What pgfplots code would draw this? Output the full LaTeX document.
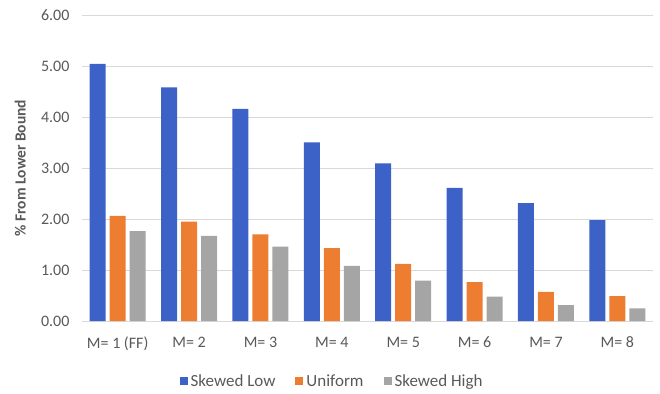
\documentclass[border=0pt]{standalone}
\usepackage{pgfplots}
\pgfplotsset{compat=1.18}
\usepackage{fontspec}
\setmainfont{Carlito}

\definecolor{slow}{HTML}{3C62C8}
\definecolor{unif}{HTML}{ED7D31}
\definecolor{shigh}{HTML}{A5A5A5}
\definecolor{txt}{HTML}{595959}
\definecolor{gridc}{HTML}{D9D9D9}

\begin{document}
\begin{tikzpicture}[x=1pt,y=1pt]
\begin{axis}[
  at={(0,0)}, anchor=south west,
  scale only axis,
  width=571pt, height=306pt,
  ybar=4pt, bar width=16pt,
  xmin=-0.5, xmax=7.5,
  ymin=0, ymax=6,
  ytick={0,1,2,3,4,5,6},
  xtick=data,
  xticklabels={M= 1 (FF),M= 2,M= 3,M= 4,M= 5,M= 6,M= 7,M= 8},
  ymajorgrids,
  major grid style={color=gridc, line width=0.9pt},
  axis line style={draw=none},
  tick style={draw=none},
  /pgf/number format/assume math mode=true,
  yticklabel={\pgfmathprintnumber[fixed,fixed zerofill,precision=2]{\tick}},
  ticklabel style={font=\fontsize{16}{18}\selectfont, text=txt},
  xticklabel style={yshift=-8pt},
  yticklabel style={xshift=-9pt},
  ylabel={\% From Lower Bound},
  every axis y label/.style={at={(axis description cs:-0.108,0.5)}, rotate=90, anchor=center,
    font=\fontsize{15.5}{17}\selectfont\bfseries, text=txt},
  legend columns=3,
  legend style={at={(axis description cs:0.438,-0.196)}, anchor=center, draw=none, fill=none,
    font=\fontsize{17}{19}\selectfont, text=txt,
    /tikz/every even column/.append style={column sep=18pt},
    /tikz/every odd column/.append style={column sep=1pt},
    inner sep=0pt},
  legend image code/.code={\path[#1] (0pt,-4pt) rectangle (8pt,4pt);},
]
\addplot[fill=slow, draw=none] coordinates {
  (0,5.04) (1,4.58) (2,4.16) (3,3.50) (4,3.09) (5,2.61) (6,2.31) (7,1.98)};
\addplot[fill=unif, draw=none] coordinates {
  (0,2.06) (1,1.95) (2,1.70) (3,1.43) (4,1.12) (5,0.76) (6,0.57) (7,0.49)};
\addplot[fill=shigh, draw=none] coordinates {
  (0,1.76) (1,1.67) (2,1.46) (3,1.08) (4,0.79) (5,0.48) (6,0.31) (7,0.25)};
\legend{Skewed Low, Uniform, Skewed High}
\end{axis}
\useasboundingbox (-82pt,-72pt) rectangle (578pt,321pt);
\end{tikzpicture}
\end{document}
